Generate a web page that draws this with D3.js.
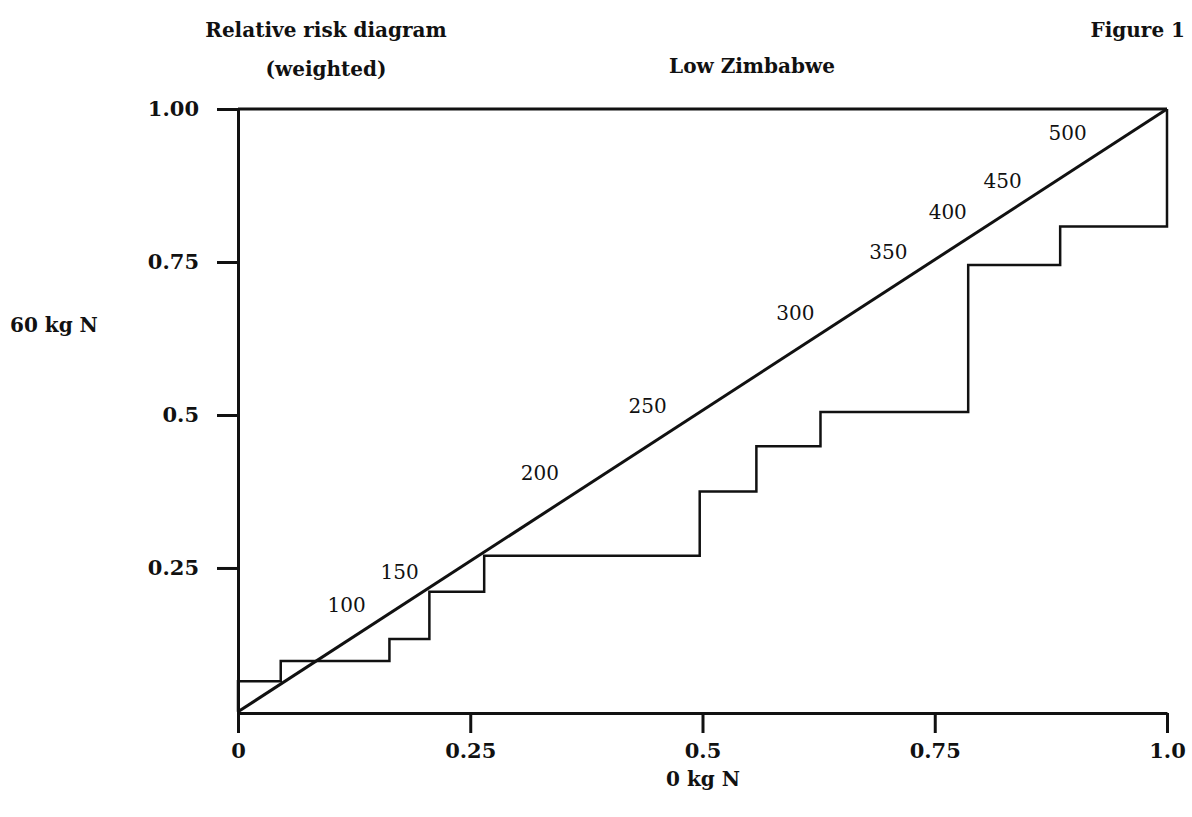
<!DOCTYPE html>
<html>
<head>
<meta charset="utf-8">
<script src="https://cdn.jsdelivr.net/npm/d3@7"></script>
<style>
  html, body { margin: 0; padding: 0; background: #fff; }
  svg { display: block; }
  text { font-family: "DejaVu Serif", "Liberation Serif", serif; fill: #111; }
</style>
</head>
<body>
<svg id="chart" width="1192" height="817"></svg>
<script>
// Axis ticks
const xTicks = [0, 0.25, 0.5, 0.75, 1.0];
const xTickLabels = ["0", "0.25", "0.5", "0.75", "1.0"];
const yTicks = [0.25, 0.5, 0.75, 1.0];
const yTickLabels = ["0.25", "0.5", "0.75", "1.00"];

// Cumulative step curve (0 kg N vs 60 kg N)
const stepX = [0, 0, 0.046, 0.163, 0.206, 0.265, 0.497, 0.558, 0.627, 0.786, 0.885, 1.0];
const stepY = [0.015, 0.065, 0.098, 0.134, 0.211, 0.270, 0.375, 0.449, 0.505, 0.745, 0.808, 1.0];

// Equal-risk diagonal
const diagX = [0, 1];
const diagY = [0.015, 1];

// Threshold labels placed along the diagonal
const rateLabels = ["100", "150", "200", "250", "300", "350", "400", "450", "500"];
const rateX = [0.117, 0.174, 0.325, 0.441, 0.600, 0.700, 0.764, 0.823, 0.893];
const rateY = [0.189, 0.243, 0.405, 0.515, 0.667, 0.766, 0.832, 0.882, 0.961];

const svg = d3.select("#chart");
const ink = "#111";

const x = d3.scaleLinear().domain([0, 1]).range([238, 1167]);
const y = d3.scaleLinear().domain([0.013, 1]).range([713, 109]);

// Top frame line
svg.append("line")
  .attr("x1", x(0)).attr("x2", x(1))
  .attr("y1", y(1)).attr("y2", y(1))
  .attr("stroke", ink).attr("stroke-width", 3);

// X axis
const xAxis = svg.append("g")
  .attr("transform", `translate(0,${y.range()[0]})`)
  .call(d3.axisBottom(x).tickValues(xTicks)
    .tickFormat((d, i) => xTickLabels[i])
    .tickSize(20).tickSizeOuter(0).tickPadding(10));
xAxis.select(".domain").attr("stroke", ink).attr("stroke-width", 3);
xAxis.selectAll(".tick line").attr("stroke", ink).attr("stroke-width", 3);
xAxis.selectAll(".tick text")
  .attr("font-family", "DejaVu Serif").attr("font-weight", "bold")
  .attr("font-size", 21).attr("fill", ink);

// Y axis
const yAxis = svg.append("g")
  .attr("transform", `translate(${x(0)},0)`)
  .call(d3.axisLeft(y).tickValues(yTicks)
    .tickFormat((d, i) => yTickLabels[i])
    .tickSize(21).tickSizeOuter(0).tickPadding(18));
yAxis.select(".domain").attr("stroke", ink).attr("stroke-width", 3);
yAxis.selectAll(".tick line").attr("stroke", ink).attr("stroke-width", 3);
yAxis.selectAll(".tick text")
  .attr("font-family", "DejaVu Serif").attr("font-weight", "bold")
  .attr("font-size", 21).attr("fill", ink);

// Diagonal
const line = d3.line().x(d => x(d[0])).y(d => y(d[1]));
svg.append("path")
  .datum(diagX.map((v, i) => [v, diagY[i]]))
  .attr("d", line)
  .attr("fill", "none").attr("stroke", ink).attr("stroke-width", 3);

// Step curve
const stepLine = d3.line().x(d => x(d[0])).y(d => y(d[1])).curve(d3.curveStepAfter);
svg.append("path")
  .datum(stepX.map((v, i) => [v, stepY[i]]))
  .attr("d", stepLine)
  .attr("fill", "none").attr("stroke", ink).attr("stroke-width", 2.5);

// Rate labels
svg.append("g").selectAll("text")
  .data(rateLabels)
  .join("text")
  .attr("x", (d, i) => x(rateX[i]))
  .attr("y", (d, i) => y(rateY[i]))
  .attr("dy", "0.35em")
  .attr("text-anchor", "middle")
  .attr("font-size", 20)
  .text(d => d);

// Titles
const bold = sel => sel.attr("font-weight", "bold").attr("font-size", 20);
svg.append("text").attr("x", 326).attr("y", 37).attr("text-anchor", "middle")
  .call(bold).text("Relative risk diagram");
svg.append("text").attr("x", 326).attr("y", 76).attr("text-anchor", "middle")
  .call(bold).text("(weighted)");
svg.append("text").attr("x", 752).attr("y", 73).attr("text-anchor", "middle")
  .call(bold).text("Low Zimbabwe");
svg.append("text").attr("x", 1185).attr("y", 37).attr("text-anchor", "end")
  .call(bold).text("Figure 1");
svg.append("text").attr("x", 10).attr("y", 332).attr("text-anchor", "start")
  .call(bold).text("60 kg N");
svg.append("text").attr("x", 703).attr("y", 786).attr("text-anchor", "middle")
  .call(bold).text("0 kg N");
</script>
</body>
</html>
